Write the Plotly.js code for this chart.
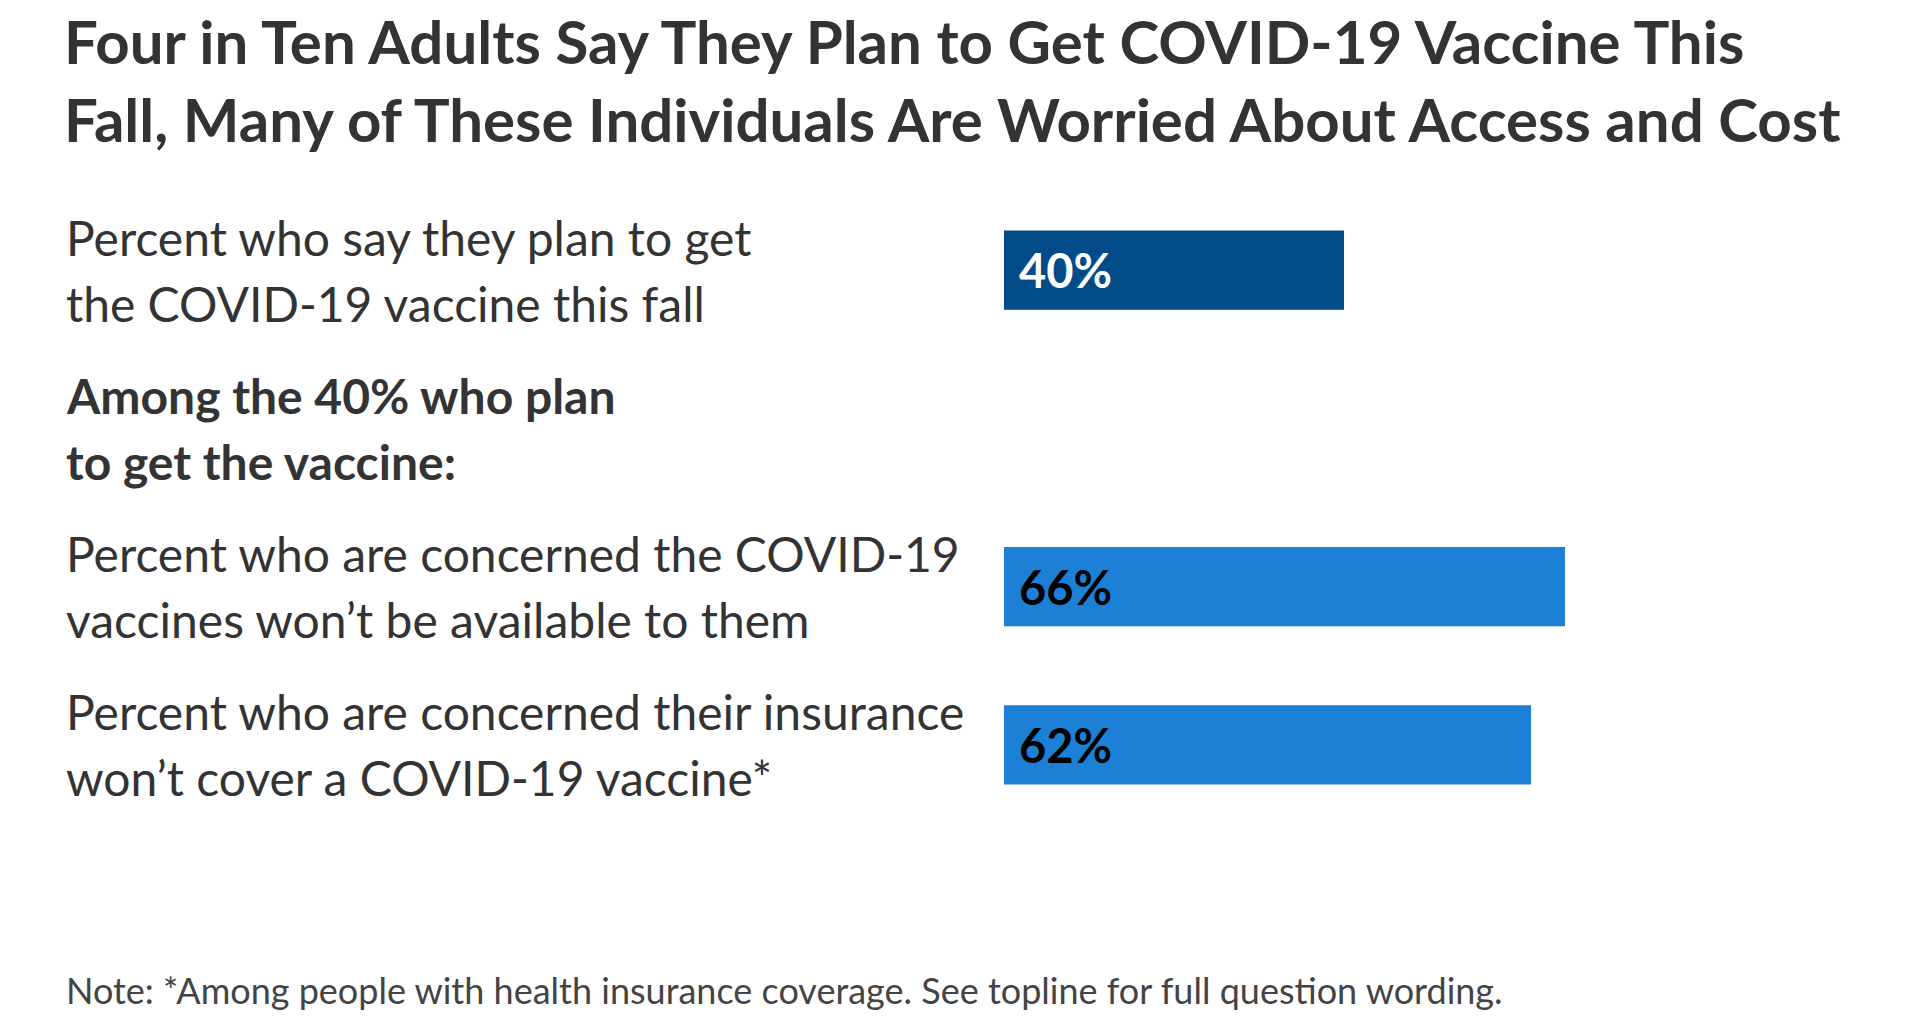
<!DOCTYPE html>
<html>
<head>
<meta charset="utf-8">
<script src="https://cdn.plot.ly/plotly-3.0.1.min.js"></script>
<style>html,body{margin:0;padding:0;background:#fff;}#chart{width:1920px;height:1024px;}</style>
</head>
<body>
<div id="chart"></div>
<script>
const titleText = 'Four in Ten Adults Say They Plan to Get COVID-19 Vaccine This<br>Fall, Many of These Individuals Are Worried About Access and Cost';
const rowKeys = ['plan', 'among', 'available', 'insurance'];
const rowLabels = [
  'Percent who say they plan to get<br>the COVID-19 vaccine this fall',
  '<b>Among the 40% who plan</b><br><b>to get the vaccine:</b>',
  'Percent who are concerned the COVID-19<br>vaccines won’t be available to them',
  'Percent who are concerned their insurance<br>won’t cover a COVID-19 vaccine*'
];
const values = [40, null, 66, 62];
const barColors = ['#004b88', '#1c80d6', '#1c80d6', '#1c80d6'];
const valueTextColors = ['#ffffff', '#000000', '#000000', '#000000'];
const noteText = 'Note: *Among people with health insurance coverage. See topline for full question wording.';

const FONT = 'Lato, "Open Sans", sans-serif';
const W = 1920, H = 1024;
const ml = 1004, mr = 66, mt = 191, mb = 200;
const plotW = W - ml - mr;
const labelX = (63.5 - ml) / plotW;

const annotations = [];
rowKeys.forEach((k, i) => {
  const lines = rowLabels[i].split('<br>');
  const n = lines.length;
  lines.forEach((ln, j) => {
    annotations.push({
      xref: 'paper', yref: 'y', x: labelX, y: k,
      xanchor: 'left', yanchor: 'middle', align: 'left',
      text: ln, showarrow: false,
      yshift: ((n - 1) / 2 - j) * 66,
      font: {family: FONT, size: 48, color: '#333333'}
    });
  });
  if (values[i] !== null) {
    annotations.push({
      xref: 'x', yref: 'y', x: 0, y: k,
      xanchor: 'left', yanchor: 'middle',
      xshift: 13, text: '<b>' + values[i] + '%</b>', showarrow: false,
      font: {family: FONT, size: 47, color: valueTextColors[i]}
    });
  }
});
annotations.push({
  xref: 'paper', yref: 'paper', x: labelX, y: -(990 - (H - mb)) / (H - mt - mb),
  xanchor: 'left', yanchor: 'middle', align: 'left',
  text: noteText, showarrow: false,
  font: {family: FONT, size: 36, color: '#444444'}
});

const trace = {
  type: 'bar', orientation: 'h',
  y: rowKeys, x: values,
  marker: {color: barColors, line: {width: 0}},
  hoverinfo: 'skip'
};

const layout = {
  width: W, height: H,
  margin: {l: ml, r: mr, t: mt, b: mb, pad: 0},
  paper_bgcolor: '#ffffff', plot_bgcolor: '#ffffff',
  title: {
    text: '<b>' + titleText.split('<br>').join('</b><br><b>') + '</b>',
    xref: 'container', yref: 'container',
    x: 64 / W, xanchor: 'left', y: 1 - 64 / H, yanchor: 'top',
    font: {family: FONT, size: 60, color: '#333333'}
  },
  xaxis: {range: [0, 100], visible: false, fixedrange: true},
  yaxis: {type: 'category', categoryorder: 'array', categoryarray: rowKeys,
          range: [3.5, -0.5], visible: false, fixedrange: true},
  bargap: 0.5,
  showlegend: false,
  annotations: annotations
};

Plotly.newPlot('chart', [trace], layout, {displayModeBar: false, staticPlot: true});
</script>
</body>
</html>
